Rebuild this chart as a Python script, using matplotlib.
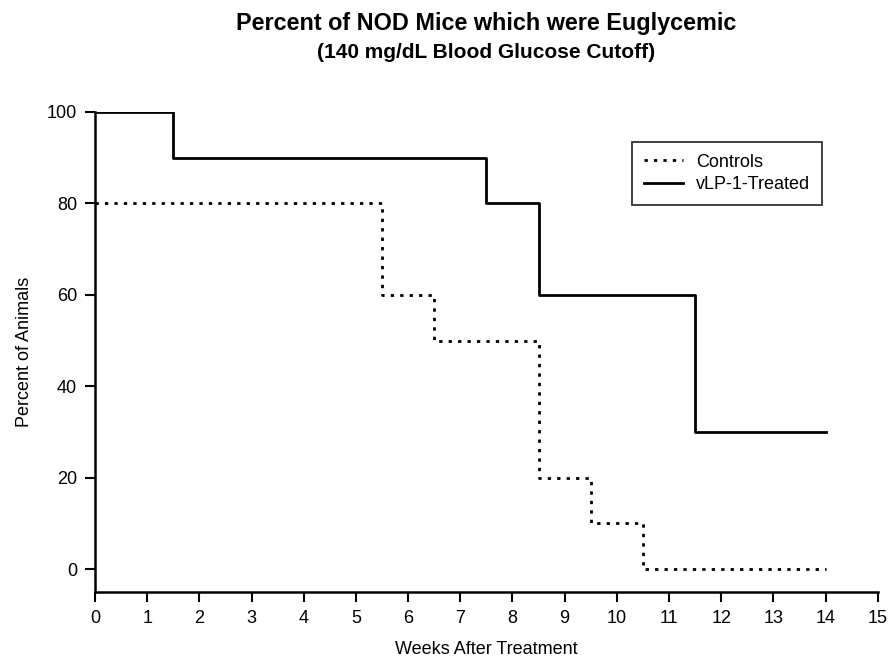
import matplotlib.pyplot as plt

plt.rcParams['font.family'] = ['Liberation Sans', 'DejaVu Sans']

# step data: value holds from this week until the next one
weeks_treated = [0, 1.5, 7.5, 8.5, 11.5, 14]
pct_treated = [100, 90, 80, 60, 30, 30]

weeks_controls = [0, 5.5, 6.5, 8.5, 9.5, 10.5, 14]
pct_controls = [80, 60, 50, 20, 10, 0, 0]

x_ticks = list(range(0, 16))
y_ticks = [0, 20, 40, 60, 80, 100]

fig = plt.figure(figsize=(8.92, 6.66), dpi=100)
ax = fig.add_axes([0.1065, 0.111, 0.8775, 0.721])

ax.step(weeks_controls, pct_controls, where='post', color='black',
        linestyle=(0, (1.2, 2.2)), linewidth=2.0, label='Controls')
ax.step(weeks_treated, pct_treated, where='post', color='black',
        linestyle='-', linewidth=2.0, label='vLP-1-Treated')

ax.set_xlim(0, 15)
ax.set_ylim(-5, 100)
ax.set_xticks(x_ticks)
ax.set_yticks(y_ticks)
ax.tick_params(direction='out', length=7, width=1.5, labelsize=13, pad=6)

ax.spines['top'].set_visible(False)
ax.spines['right'].set_visible(False)
ax.spines['left'].set_linewidth(1.8)
ax.spines['bottom'].set_linewidth(1.8)

ax.set_xlabel('Weeks After Treatment', fontsize=13, labelpad=10)
ax.set_ylabel('Percent of Animals', fontsize=13, labelpad=10)

leg = ax.legend(loc='upper left', bbox_to_anchor=(0.686, 0.9375), fontsize=13,
                frameon=True, fancybox=False, edgecolor='black',
                handlelength=2.2, handletextpad=0.7, borderpad=0.65,
                labelspacing=0.3, borderaxespad=0)
leg.get_frame().set_linewidth(1.3)

# titles centred over the plotting area
cx = 0.1065 + 0.8775 / 2
fig.text(cx, 0.964, 'Percent of NOD Mice which were Euglycemic',
         ha='center', va='center', fontsize=16.8, fontweight='bold')
fig.text(cx, 0.921, '(140 mg/dL Blood Glucose Cutoff)',
         ha='center', va='center', fontsize=15, fontweight='bold')

fig.savefig('out.png', dpi=100)
